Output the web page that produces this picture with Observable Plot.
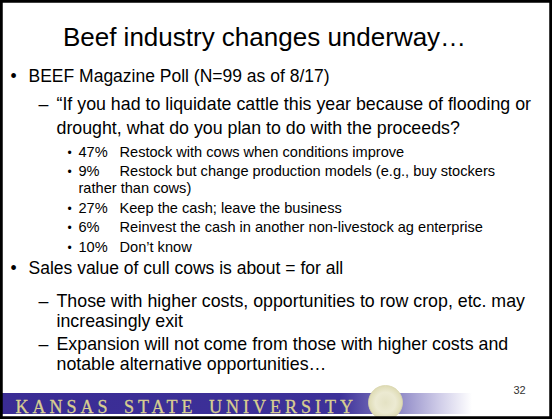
<!DOCTYPE html>
<html>
<head>
<meta charset="utf-8">
<script src="https://cdn.jsdelivr.net/npm/d3@7"></script>
<script src="https://cdn.jsdelivr.net/npm/@observablehq/plot@0.6"></script>
<style>
  html, body { margin: 0; padding: 0; background: #fff; }
  #chart svg { display: block; }
</style>
</head>
<body>
<div id="chart"></div>
<script>
// ---- slide content ----
const titleText = "Beef industry changes underway…";
const pollHeading = "BEEF Magazine Poll (N=99 as of 8/17)";
const pollQuestion = [
  "“If you had to liquidate cattle this year because of flooding or",
  "drought, what do you plan to do with the proceeds?"
];
const pollShares = [47, 9, 27, 6, 10];
const pollAnswers = [
  ["Restock with cows when conditions improve"],
  ["Restock but change production models (e.g., buy stockers", "rather than cows)"],
  ["Keep the cash; leave the business"],
  ["Reinvest the cash in another non-livestock ag enterprise"],
  ["Don’t know"]
];
const secondHeading = "Sales value of cull cows is about = for all";
const secondPoints = [
  ["Those with higher costs, opportunities to row crop, etc. may", "increasingly exit"],
  ["Expansion will not come from those with higher costs and", "notable alternative opportunities…"]
];
const slideNumber = "32";
const footerText = "KANSAS STATE UNIVERSITY";

// ---- layout (slide geometry) ----
const W = 552, H = 419;
const L1 = {size: 17.5, bulletX: 10, textX: 28};
const L2 = {size: 17.8, bulletX: 38, textX: 56};
const L3 = {size: 14.6, bulletSize: 12, bulletX: 67, pctX: 78, textX: 119};

const rows = [];
let y = 81.5;
rows.push({x: L1.bulletX, y, text: "•", size: L1.size});
rows.push({x: L1.textX, y, text: pollHeading, size: L1.size});
y += 28;
pollQuestion.forEach((line, i) => {
  if (i === 0) rows.push({x: L2.bulletX, y, text: "–", size: L2.size});
  rows.push({x: L2.textX, y, text: line, size: L2.size});
  y += i === 0 ? 23.5 : 23;
});
pollShares.forEach((p, i) => {
  rows.push({x: L3.bulletX, y, text: "•", size: L3.bulletSize});
  rows.push({x: L3.pctX, y, text: p + "%", size: L3.size});
  pollAnswers[i].forEach((line, j) => {
    rows.push({x: j === 0 ? L3.textX : L3.pctX, y, text: line, size: L3.size});
    y += (j < pollAnswers[i].length - 1) ? 17 : 19.5;
  });
});
y += 2.5;
rows.push({x: L1.bulletX, y, text: "•", size: L1.size});
rows.push({x: L1.textX, y, text: secondHeading, size: L1.size});
y += 33;
secondPoints.forEach(lines => {
  lines.forEach((line, j) => {
    if (j === 0) rows.push({x: L2.bulletX, y, text: "–", size: L2.size});
    rows.push({x: L2.textX, y, text: line, size: L2.size});
    y += j === 0 ? 20 : 23;
  });
});

const bar = [{x1: 0, x2: W - 2, y1: 393, y2: 414}];
const seal = [{x: 385, y: 402}];

const chart = Plot.plot({
  width: W,
  height: H,
  margin: 0,
  style: {fontFamily: "'Liberation Sans', Arial, sans-serif", background: "#fff", overflow: "hidden"},
  x: {domain: [0, W], range: [0, W], axis: null},
  y: {domain: [0, H], range: [0, H], axis: null},
  marks: [
    // footer band
    Plot.rect(bar, {x1: "x1", x2: "x2", y1: "y1", y2: "y2", fill: "url(#ksuBand)"}),
    Plot.dot(seal, {x: "x", y: "y", r: 17, fill: "url(#ksuSeal)", stroke: "#d9d5ad", strokeWidth: 0.8}),
    Plot.text([footerText], {x: 15, y: 412, text: d => d, textAnchor: "start", lineAnchor: "bottom",
      fontFamily: "'Liberation Serif', 'DejaVu Serif', serif", fontSize: 18, fill: "#d8cf90",
      stroke: "#d8cf90", strokeWidth: 0.3}),
    // title
    Plot.text([titleText], {x: 264, y: 45, text: d => d, textAnchor: "middle", lineAnchor: "bottom",
      fontSize: 26, fill: "#000"}),
    // body text
    Plot.text(rows, {x: "x", y: "y", text: "text", fontSize: "size", textAnchor: "start",
      lineAnchor: "bottom", fill: "#000"}),
    // slide number
    Plot.text([slideNumber], {x: 513, y: 393, text: d => d, textAnchor: "start", lineAnchor: "bottom",
      fontSize: 11, fill: "#333"}),
    // slide border
    Plot.rect([0], {x1: 0, x2: W, y1: 0, y2: H, fill: "none", stroke: "#000", strokeWidth: 5.5})
  ]
});

// gradient definitions for the footer band and seal
const svg = d3.select(chart);
const defs = svg.insert("defs", ":first-child");
const lg = defs.append("linearGradient").attr("id", "ksuBand")
  .attr("gradientUnits", "userSpaceOnUse").attr("x1", 0).attr("x2", 472).attr("y1", 0).attr("y2", 0);
[[0, "#3a2c94"], [0.72, "#3d3199"], [0.84, "#8a84c4"], [0.93, "#cfcce8"], [1, "#ffffff"]]
  .forEach(([o, c]) => lg.append("stop").attr("offset", o).attr("stop-color", c));
const rg = defs.append("radialGradient").attr("id", "ksuSeal");
[[0, "#e4e2c4"], [0.6, "#ecead2"], [1, "#dedbb4"]]
  .forEach(([o, c]) => rg.append("stop").attr("offset", o).attr("stop-color", c));

// wide letter spacing of the university wordmark
svg.selectAll("text").filter(function () { return this.textContent === footerText; })
  .attr("letter-spacing", 4).attr("word-spacing", 4);

document.getElementById("chart").appendChild(chart);
</script>
</body>
</html>
